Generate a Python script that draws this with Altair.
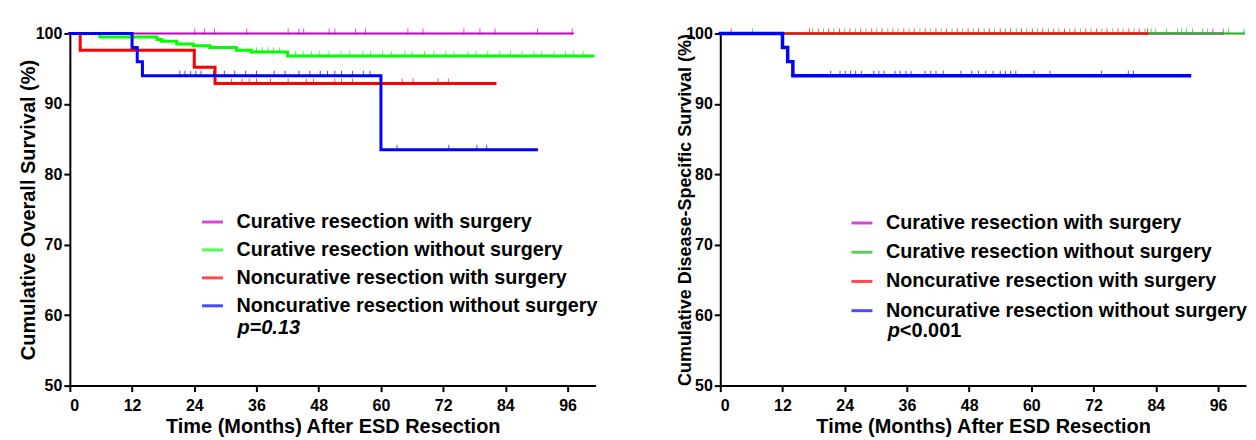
import altair as alt
import pandas as pd

FONT = "Liberation Sans"

SERIES = [
    "Curative resection with surgery",
    "Curative resection without surgery",
    "Noncurative resection with surgery",
    "Noncurative resection without surgery",
]
X_TICKS = [0, 12, 24, 36, 48, 60, 72, 84, 96]
Y_TICKS = [50, 60, 70, 80, 90, 100]
X_DOMAIN = [0, 101.4]
Y_DOMAIN = [50, 100]

# ---------------- Left panel: overall survival ----------------
os_cws_t = [0, 97.0]
os_cws_s = [100, 100]
os_cwo_t = [0, 5.8, 16.8, 17.7, 20.6, 23.8, 27.0, 32.1, 35.0, 42.0, 100.9]
os_cwo_s = [100, 99.5, 99.15, 98.9, 98.5, 98.25, 98.0, 97.6, 97.35, 96.8, 96.8]
os_nws_t = [0, 2.0, 24.0, 28.0, 82.0]
os_nws_s = [100, 97.6, 95.2, 92.9, 92.9]
os_nwo_t = [0, 12.0, 13.0, 14.0, 60.0, 90.0]
os_nwo_s = [100, 98.0, 96.0, 94.0, 83.5, 83.5]

os_cws_c = [24.1, 26.0, 27.9, 34.1, 42.1, 44.2, 45.1, 50.0, 51.1, 55.1, 57.0,
            65.2, 68.1, 76.0, 79.1, 82.0, 90.2, 96.9]
os_cwo_c = [36.0, 37.1, 38.2, 39.3, 40.4, 43.5, 45.0, 46.6, 48.2, 50.0, 52.3,
            54.0, 56.5, 58.0, 60.3, 62.0, 64.6, 66.0, 68.4, 70.2, 72.5, 74.1,
            76.8, 78.3, 80.6, 82.9, 85.0, 87.2, 89.5, 91.0, 93.4, 95.6, 97.1, 99.0]
os_nws_c = [31.2, 33.2, 34.6, 36.0, 38.7, 42.1, 45.6, 47.0, 51.1, 52.4, 54.5,
            64.1, 66.2, 71.0, 73.0]
os_nwo_c = [21.2, 22.2, 23.3, 24.3, 25.3, 27.7, 29.8, 31.8, 33.9, 36.0, 39.4,
            41.5, 44.2, 46.3, 48.3, 49.7, 51.1, 52.4, 54.5, 56.6, 57.9, 63.1,
            73.1, 78.5, 80.4]

# ---------------- Right panel: disease-specific survival ----------------
dss_cws_t = [0, 97.0]
dss_cws_s = [100, 100]
dss_cwo_t = [0, 101.0]
dss_cwo_s = [100, 100]
dss_nws_t = [0, 82.4]
dss_nws_s = [100, 100]
dss_nwo_t = [0, 12.0, 13.0, 14.0, 90.5]
dss_nwo_s = [100, 98.0, 96.0, 94.0, 94.0]

dss_cws_c = [95.0, 97.0]
dss_cwo_c = [6.2, 17.8, 19.9, 21.9, 24.0, 26.1, 28.1, 30.2, 32.3, 34.3, 36.4,
             38.5, 40.5, 42.6, 44.7, 46.7, 48.8, 50.9, 52.9, 55.0, 57.1, 59.1,
             61.2, 63.3, 65.3, 67.4, 69.5, 71.5, 73.6, 75.7, 77.7, 79.8, 81.9,
             83.1, 84.0, 86.1, 88.2, 89.0, 89.9, 91.1, 93.0, 94.0, 98.0, 101.0]
dss_nws_c = [2.1, 17.2, 18.9, 20.9, 23.0, 25.0, 27.1, 29.2, 31.2, 33.3, 35.4,
             37.4, 39.5, 41.6, 43.6, 45.7, 47.8, 49.8, 51.9, 54.0, 56.0, 58.1,
             60.2, 62.2, 64.3, 66.4, 68.4, 70.5, 72.6, 74.6, 76.7, 78.8, 80.8, 82.4]
dss_nwo_c = [21.3, 23.1, 24.1, 25.1, 26.1, 27.2, 29.6, 30.6, 31.6, 33.7, 34.7,
             35.8, 36.8, 39.5, 40.6, 41.6, 43.0, 46.4, 48.5, 49.8, 51.2, 52.6,
             54.0, 55.0, 56.0, 57.0, 60.5, 63.6, 73.5, 78.7, 79.7]

OS_TITLE = "Cumulative Overall Survival (%)"
DSS_TITLE = "Cumulative Disease-Specific Survival (%)"
X_TITLE = "Time (Months) After ESD Resection"
P_LEFT = "p=0.13"
P_RIGHT_P = "p"
P_RIGHT_V = "<0.001"

# ---------------- styles ----------------
COLORS_LEFT = ["#C000C0", "#00FF00", "#FF0000", "#0000FF"]
COLORS_RIGHT = ["#C000C0", "#22B022", "#FF0000", "#0000FF"]
WIDTHS_LEFT = [2.0, 3.0, 3.0, 3.0]
WIDTHS_RIGHT = [2.0, 2.0, 2.0, 3.5]


def step_value(ts, ss, t):
    v = ss[0]
    for ti, si in zip(ts, ss):
        if ti <= t:
            v = si
    return v


def make_panel(curves, censors, colors, widths, ytitle, ytitle_size, ytitle_pad,
               leg_x, leg_y, row_pad, ptexts):
    rows, crow = [], []
    for name, (ts, ss) in zip(SERIES, curves):
        for t, s in zip(ts, ss):
            rows.append({"series": name, "t": t, "s": s})
    for name, (ts, ss), cs in zip(SERIES, curves, censors):
        for c in cs:
            crow.append({"series": name, "t": c, "s": step_value(ts, ss, c)})
    df = pd.DataFrame(rows)
    cdf = pd.DataFrame(crow)

    x = alt.X("t:Q", scale=alt.Scale(domain=X_DOMAIN, nice=False, zero=False),
              axis=alt.Axis(values=X_TICKS, title=X_TITLE, titlePadding=3,
                            labelPadding=6))
    y = alt.Y("s:Q", scale=alt.Scale(domain=Y_DOMAIN, nice=False, zero=False),
              axis=alt.Axis(values=Y_TICKS, title=ytitle, titleFontSize=ytitle_size,
                            titlePadding=ytitle_pad, labelPadding=2))
    legend = alt.Legend(orient="none", legendX=leg_x, legendY=leg_y, title=None,
                        symbolType="stroke", symbolSize=441, symbolStrokeWidth=3,
                        labelFont=FONT, labelFontSize=19.8, labelFontWeight="bold",
                        labelColor="black", labelOffset=12, rowPadding=row_pad,
                        padding=0, labelLimit=0)
    color = alt.Color("series:N", scale=alt.Scale(domain=SERIES, range=colors),
                      legend=legend)

    layers = []
    for name, w in zip(SERIES, widths):
        layers.append(
            alt.Chart(df).transform_filter(alt.datum.series == name)
            .mark_line(interpolate="step-after", strokeWidth=w, strokeCap="square")
            .encode(x=x, y=y, color=color)
        )
        layers.append(
            alt.Chart(cdf).transform_filter(alt.datum.series == name)
            .mark_tick(orient="vertical", size=6, thickness=1, yOffset=-2)
            .encode(x=x, y=y, color=color)
        )
    for txt, px, py, style in ptexts:
        layers.append(
            alt.Chart(pd.DataFrame({"label": [txt]}))
            .mark_text(align="left", baseline="middle", font=FONT, fontSize=20,
                       fontWeight="bold", fontStyle=style, color="black")
            .encode(text="label:N", x=alt.value(px), y=alt.value(py))
        )
    return alt.layer(*layers).properties(width=527, height=353)


left = make_panel(
    [(os_cws_t, os_cws_s), (os_cwo_t, os_cwo_s), (os_nws_t, os_nws_s), (os_nwo_t, os_nwo_s)],
    [os_cws_c, os_cwo_c, os_nws_c, os_nwo_c],
    COLORS_LEFT, WIDTHS_LEFT, OS_TITLE, 20, -3, 131, 177, 6.0,
    [(P_LEFT, 168, 295, "italic")],
)
right = make_panel(
    [(dss_cws_t, dss_cws_s), (dss_cwo_t, dss_cwo_s), (dss_nws_t, dss_nws_s), (dss_nwo_t, dss_nwo_s)],
    [dss_cws_c, dss_cwo_c, dss_nws_c, dss_nwo_c],
    COLORS_RIGHT, WIDTHS_RIGHT, DSS_TITLE, 18, -9, 130, 178, 7.3,
    [(P_RIGHT_P, 168, 298, "italic"), (P_RIGHT_V, 180, 298, "normal")],
)

chart = (
    alt.hconcat(left, right, spacing=77)
    .resolve_scale(color="independent")
    .configure(padding={"left": 10, "top": 17, "right": 0, "bottom": 0})
    .configure_view(stroke=None)
    .configure_axis(
        grid=False, domainColor="black", domainWidth=2, tickColor="black",
        tickWidth=2, tickSize=6, labelFont=FONT, labelFontSize=16,
        labelFontWeight="bold", labelColor="black", titleFont=FONT,
        titleFontSize=20, titleFontWeight="bold", titleColor="black",
    )
)

chart.save("out.html", embed_options={"renderer": "svg", "actions": False})
